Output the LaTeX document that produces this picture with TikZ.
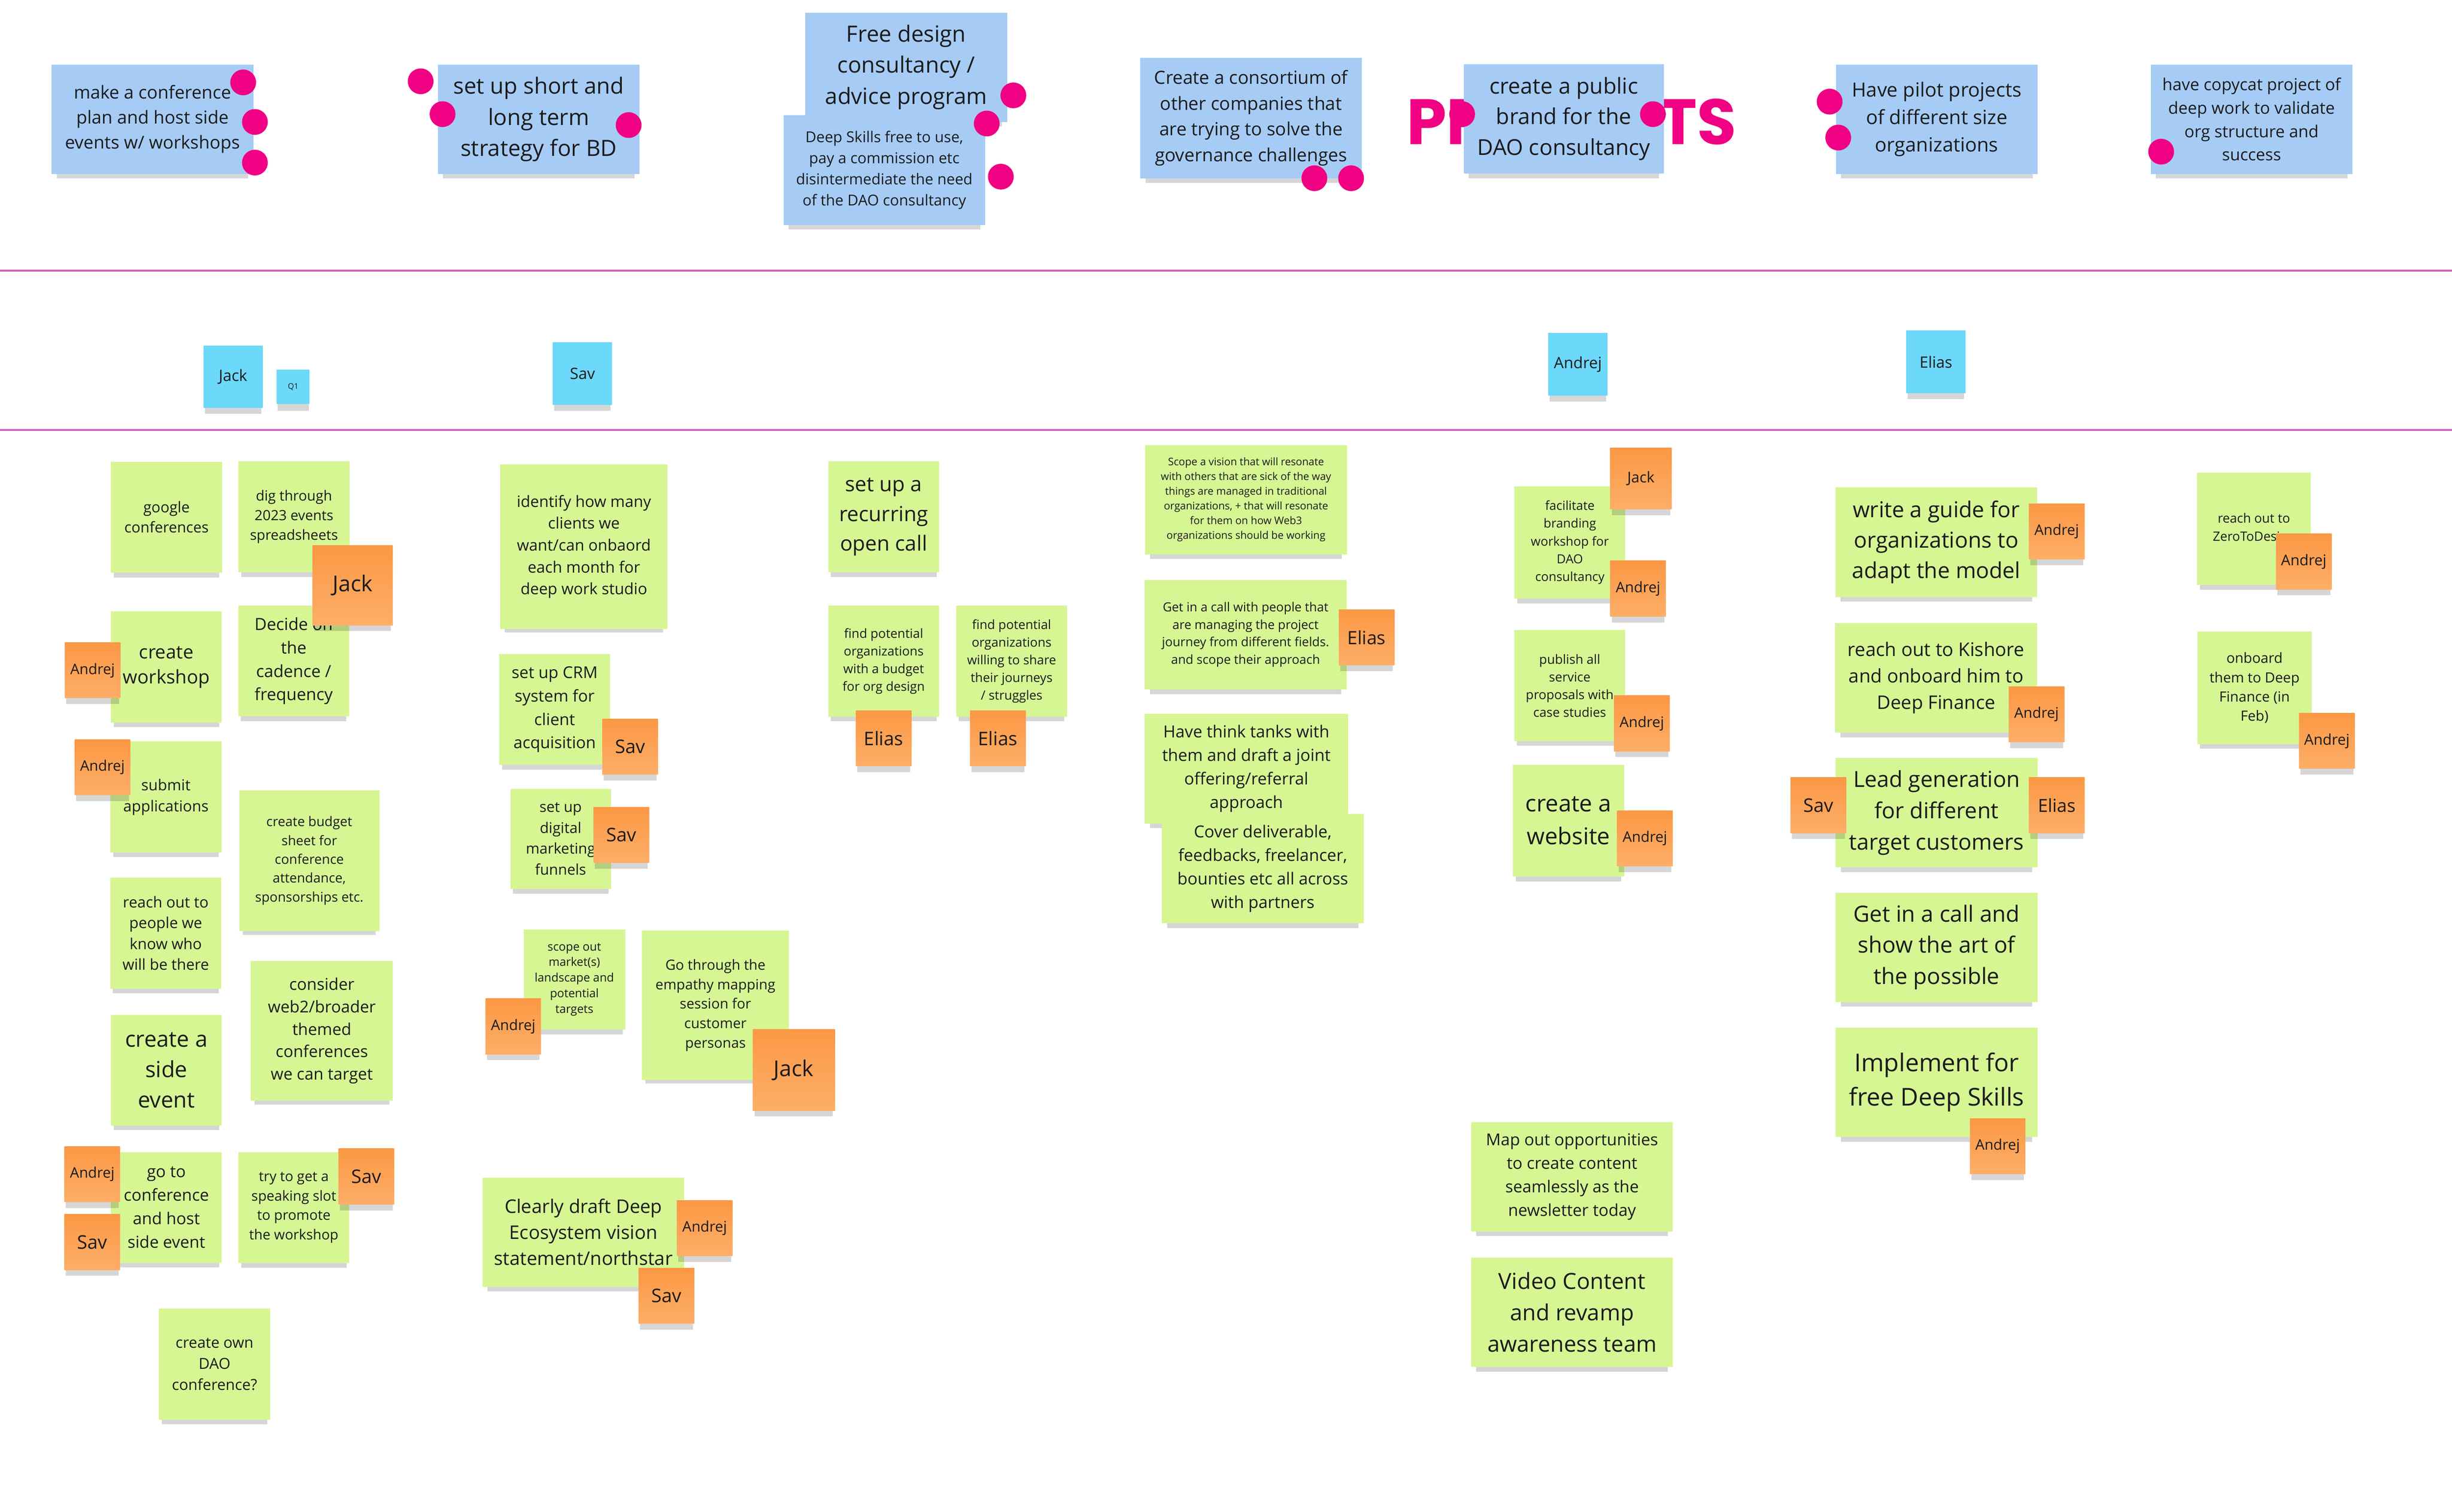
\documentclass[tikz,border=0pt]{standalone}
\usepackage{fontspec}
\setmainfont{Open Sans}
\newfontfamily\titlefont{Poppins}
\usetikzlibrary{shadows}
\definecolor{noteblue}{RGB}{166,204,245}
\definecolor{notecyan}{RGB}{108,216,250}
\definecolor{notegreen}{RGB}{214,246,148}
\definecolor{tagtop}{RGB}{251,152,68}
\definecolor{tagbottom}{RGB}{253,174,104}
\definecolor{dotpink}{RGB}{240,0,130}
\definecolor{linepink}{RGB}{205,100,190}
\definecolor{ink}{RGB}{26,26,26}
\newcommand{\fsz}[2]{\fontsize{#1}{#2}\selectfont}

\begin{document}
\begin{tikzpicture}[x=1pt, y=-1pt,
  sticky/.style={inner sep=1pt, align=center, text=ink,
    drop shadow={shadow xshift=0pt, shadow yshift=-5pt, shadow scale=0.95,
      opacity=0.16, fill=black}},
  bnote/.style={sticky, fill=noteblue, minimum width=129pt, minimum height=70pt},
  cnote/.style={sticky, fill=notecyan, minimum width=38pt, minimum height=40pt,
    font=\fsz{10}{12}},
  gnote/.style={sticky, fill=notegreen, minimum width=71pt, minimum height=71pt},
  wnote/.style={gnote, minimum width=129pt, minimum height=70pt},
  otag/.style={sticky, top color=tagtop, bottom color=tagbottom,
    minimum width=35.5pt, minimum height=35.5pt, font=\fsz{9.3}{12}},
  vote/.style={circle, fill=dotpink, minimum size=16.5pt, inner sep=0pt},
  sepline/.style={linepink, line width=1.2pt}]
\useasboundingbox (0,0) rectangle (1568,967);
\fill[white] (0,0) rectangle (1568,967);
\draw[sepline] (0,173) -- (1568,173);
\draw[sepline] (0,275) -- (1568,275);
%
\draw (1005,78) node[font=\titlefont\bfseries\fsz{41}{41}, text=dotpink](title){PROJECTS};
%
\draw (97.5,76.3) node[bnote, font=\fsz{11.4}{16}](confplan)
  {make a conference\\plan and host side\\events w/ workshops};
\draw (344.5,76.3) node[bnote, font=\fsz{14.3}{20}](bdplan)
  {set up short and\\long term\\strategy for BD};
\draw (579.5,43) node[bnote, font=\fsz{14.3}{20}](designprog)
  {Free design\\consultancy /\\advice program};
\draw (565.5,108.8) node[bnote, font=\fsz{9.6}{13.5}](freeskills)
  {Deep Skills free to use,\\pay a commission etc\\disintermediate the need\\of the DAO consultancy};
\draw (800,75.5) node[bnote, minimum width=142pt, minimum height=77pt,
  font=\fsz{11.6}{16.5}](consortium)
  {Create a consortium of\\other companies that\\are trying to solve the\\governance challenges};
\draw (1000,76) node[bnote, minimum width=128pt, font=\fsz{14}{19.5}](brand)
  {create a public\\brand for the\\DAO consultancy};
\draw (1238.5,76.3) node[bnote, font=\fsz{12.5}{17.5}](pilots)
  {Have pilot projects\\of different size\\organizations};
\draw (1439.8,76.3) node[bnote, font=\fsz{10.6}{15}](copycat)
  {have copycat project of\\deep work to validate\\org structure and\\success};
%
\foreach \x/\y [count=\i] in {155.5/52.7, 163/78, 163/104, 269/52, 283/73,
  402/80, 648/61, 631/79, 640/113, 840.5/114, 864/114, 935/73, 1057/73,
  1170/65, 1175.5/88, 1382/97}
  \draw (\x,\y) node[vote](vote\i){};
%
\draw (149,241) node[cnote](jackcol){Jack};
\draw (187.5,247.5) node[cnote, minimum width=21pt, minimum height=22pt,
  font=\fsz{5}{6}](quarter){Q1};
\draw (372.5,239) node[cnote](savcol){Sav};
\draw (1009,233) node[cnote](andrejcol){Andrej};
\draw (1238,231.5) node[cnote](eliascol){Elias};
%
\draw (106.5,330.8) node[gnote, font=\fsz{9.5}{13}](google){google\\conferences};
\draw (188,330.5) node[gnote, font=\fsz{9}{12.5}](spreadsheets)
  {dig through\\2023 events\\spreadsheets};
\draw (187.8,422.8) node[gnote, font=\fsz{10.7}{15}](cadence)
  {Decide on\\the\\cadence /\\frequency};
\draw (225.5,374.5) node[otag, minimum width=51.4pt, minimum height=51pt,
  font=\fsz{14}{16}](jackA){Jack};
\draw (106.4,426.7) node[gnote, font=\fsz{12}{16}](workshop){create\\workshop};
\draw (59.2,428.8) node[otag](andrejA){Andrej};
\draw (106.1,509.8) node[gnote, font=\fsz{9.7}{13.5}](submit){submit\\applications};
\draw (65.5,490.7) node[otag](andrejB){Andrej};
\draw (197.8,550.5) node[gnote, minimum width=89.6pt, minimum height=90pt,
  font=\fsz{8.5}{12}](budget)
  {create budget\\sheet for\\conference\\attendance,\\sponsorships etc.};
\draw (106,596.9) node[gnote, font=\fsz{9.7}{13.3}](peers)
  {reach out to\\people we\\know who\\will be there};
\draw (205.8,659.3) node[gnote, minimum width=90.8pt, minimum height=89.4pt,
  font=\fsz{10.4}{14.3}](broader)
  {consider\\web2/broader\\themed\\conferences\\we can target};
\draw (106.4,684.5) node[gnote, font=\fsz{14.2}{19.5}](sideevent){create a\\side\\event};
\draw (106.4,772.3) node[gnote, font=\fsz{10.5}{15}](goconf)
  {go to\\conference\\and host\\side event};
\draw (59,751.1) node[otag](andrejC){Andrej};
\draw (59,794.5) node[otag, font=\fsz{12}{14}](savA){Sav};
\draw (187.9,772.4) node[gnote, font=\fsz{8.9}{12.5}](speaking)
  {try to get a\\speaking slot\\to promote\\the workshop};
\draw (234.3,752.5) node[otag, font=\fsz{12}{14}](savB){Sav};
\draw (137.2,872.6) node[gnote, font=\fsz{9.7}{13.5}](ownconf)
  {create own\\DAO\\conference?};
%
\draw (373.4,349.7) node[gnote, minimum width=106.8pt, minimum height=105.4pt,
  font=\fsz{10}{14}](onboarding)
  {identify how many\\clients we\\want/can onbaord\\each month for\\deep work studio};
\draw (354.7,453.8) node[gnote, font=\fsz{10.4}{15}](crm)
  {set up CRM\\system for\\client\\acquisition};
\draw (403,477.7) node[otag, font=\fsz{12}{14}](savC){Sav};
\draw (358.5,536.5) node[gnote, minimum width=64.3pt, minimum height=64pt,
  font=\fsz{9.4}{13.4}](funnels){set up\\digital\\marketing\\funnels};
\draw (397.3,534.1) node[otag, font=\fsz{12}{14}](savD){Sav};
\draw (367.3,626.5) node[gnote, minimum width=65pt, minimum height=64pt,
  font=\fsz{7.5}{10}](markets)
  {scope out\\market(s)\\landscape and\\potential\\targets};
\draw (328.2,656.5) node[otag](andrejD){Andrej};
\draw (457.5,643) node[gnote, minimum width=94.3pt, minimum height=95.5pt,
  font=\fsz{9}{12.5}](personas)
  {Go through the\\empathy mapping\\session for\\customer\\personas};
\draw (507.6,684.5) node[otag, minimum width=52.6pt, minimum height=52pt,
  font=\fsz{14}{16}](jackB){Jack};
\draw (373.1,788.1) node[wnote, font=\fsz{12}{16.5}](northstar)
  {Clearly draft Deep\\Ecosystem vision\\statement/northstar};
\draw (450.6,785.5) node[otag](andrejE){Andrej};
\draw (426.2,828.8) node[otag, font=\fsz{12}{14}](savE){Sav};
%
\draw (565.1,330.6) node[gnote, font=\fsz{13.3}{19}](opencall)
  {set up a\\recurring\\open call};
\draw (565.1,422.9) node[gnote, font=\fsz{8.1}{11.3}](budgetorgs)
  {find potential\\organizations\\with a budget\\for org design};
\draw (565.1,472.3) node[otag, font=\fsz{12}{14}](eliasA){Elias};
\draw (646.9,422.9) node[gnote, font=\fsz{8.1}{11.3}](journeys)
  {find potential\\organizations\\willing to share\\their journeys\\/ struggles};
\draw (638.1,472.3) node[otag, font=\fsz{12}{14}](eliasB){Elias};
%
\draw (796.8,319.6) node[wnote, font=\fsz{6.7}{9.4}](vision)
  {Scope a vision that will resonate\\with others that are sick of the way\\things are managed in traditional\\organizations, + that will resonate\\for them on how Web3\\organizations should be working};
\draw (796.5,405.9) node[wnote, font=\fsz{8}{11.2}](fields)
  {Get in a call with people that\\are managing the project\\journey from different fields.\\and scope their approach};
\draw (873.9,407.7) node[otag, font=\fsz{11.7}{14}](eliasC){Elias};
\draw (797,491.7) node[wnote, minimum width=130pt, font=\fsz{10.6}{15}](thinktanks)
  {Have think tanks with\\them and draft a joint\\offering/referral\\approach};
\draw (807.5,555.6) node[wnote, font=\fsz{10.6}{15}](partners)
  {Cover deliverable,\\feedbacks, freelancer,\\bounties etc all across\\with partners};
%
\draw (1003.9,347) node[gnote, minimum height=72pt, font=\fsz{8}{11.4}](branding)
  {facilitate\\branding\\workshop for\\DAO\\consultancy};
\draw (1049.3,306.1) node[otag, minimum width=39.3pt, minimum height=39.2pt,
  font=\fsz{9.5}{12}](jackC){Jack};
\draw (1047.5,376.5) node[otag](andrejF){Andrej};
\draw (1003.8,438.5) node[gnote, font=\fsz{8.2}{11.3}](proposals)
  {publish all\\service\\proposals with\\case studies};
\draw (1049.9,462.7) node[otag](andrejG){Andrej};
\draw (1003,525) node[gnote, minimum height=71.5pt, font=\fsz{14.8}{21}](website)
  {create a\\website};
\draw (1051.9,536.3) node[otag](andrejH){Andrej};
\draw (1005.3,752.7) node[wnote, font=\fsz{10.5}{15}](newsletter)
  {Map out opportunities\\to create content\\seamlessly as the\\newsletter today};
\draw (1005.3,839.3) node[wnote, font=\fsz{14.2}{20}](video)
  {Video Content\\and revamp\\awareness team};
%
\draw (1238.2,346.8) node[wnote, font=\fsz{14}{19.5}](guide)
  {write a guide for\\organizations to\\adapt the model};
\draw (1315.2,339.9) node[otag](andrejI){Andrej};
\draw (1238.1,433.5) node[wnote, font=\fsz{12}{17}](kishore)
  {reach out to Kishore\\and onboard him to\\Deep Finance};
\draw (1302.3,456.8) node[otag](andrejJ){Andrej};
\draw (1238.4,519.8) node[wnote, font=\fsz{14.1}{20}](leadgen)
  {Lead generation\\for different\\target customers};
\draw (1162.8,515.1) node[otag, font=\fsz{12}{14}](savF){Sav};
\draw (1315.2,515.1) node[otag, font=\fsz{11.5}{14}](eliasD){Elias};
\draw (1238.4,605.9) node[wnote, font=\fsz{14.3}{20}](possible)
  {Get in a call and\\show the art of\\the possible};
\draw (1238.4,692.3) node[wnote, font=\fsz{15.7}{22}](freeskillsimpl)
  {Implement for\\free Deep Skills};
\draw (1277.4,733.1) node[otag](andrejK){Andrej};
%
\draw (1441.3,338.2) node[gnote, minimum width=72.8pt, minimum height=72pt,
  font=\fsz{8.2}{11.5}](zerotodesign){reach out to\\ZeroToDesign};
\draw (1473.2,359.2) node[otag, font=\fsz{9.5}{12}](andrejL){Andrej};
\draw (1441.7,440) node[gnote, minimum width=73.2pt, minimum height=72pt,
  font=\fsz{9}{12.3}](deepfinance)
  {onboard\\them to Deep\\Finance (in\\Feb)};
\draw (1488,473.9) node[otag, font=\fsz{9.5}{12}](andrejM){Andrej};
\end{tikzpicture}
\end{document}
